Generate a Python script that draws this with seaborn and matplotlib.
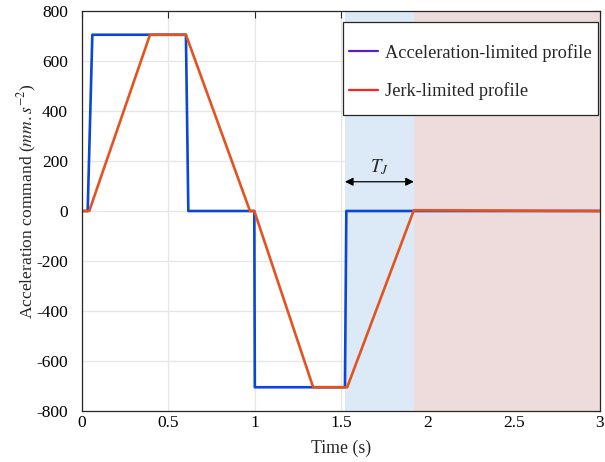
import pandas as pd
import matplotlib.pyplot as plt
from matplotlib.lines import Line2D
from matplotlib.patches import Rectangle
import seaborn as sns

# Acceleration-limited profile (time s, accel mm/s^2)
acc_t = [0.0, 0.033, 0.060, 0.602, 0.616, 0.998, 1.001, 1.523, 1.531, 3.0]
acc_a = [0, 0, 705, 705, 0, 0, -705, -705, 0, 0]

# Jerk-limited profile
jerk_t = [0.0, 0.042, 0.394, 0.602, 0.973, 0.998, 1.339, 1.536, 1.922, 3.0]
jerk_a = [0, 0, 705, 705, 0, 0, -705, -705, 3, 0]

# shaded zones and T_J arrow
tj_start, tj_end = 1.523, 1.922
arrow_y = 117

x_ticks = [0, 0.5, 1, 1.5, 2, 2.5, 3]
y_ticks = [-800, -600, -400, -200, 0, 200, 400, 600, 800]

sns.set_style('white')
plt.rcParams['font.family'] = ['Liberation Serif', 'DejaVu Serif']
plt.rcParams['mathtext.fontset'] = 'stix'
plt.rcParams['axes.unicode_minus'] = False

fig = plt.figure(figsize=(6.05, 4.62), dpi=100)
ax = fig.add_axes([0.1355, 0.1104, 0.8562, 0.8658])

df_acc = pd.DataFrame({'t': acc_t, 'a': acc_a})
df_jerk = pd.DataFrame({'t': jerk_t, 'a': jerk_a})

ax.axvspan(tj_start, tj_end, color='#dce9f7', lw=0, zorder=1)
ax.axvspan(tj_end, 3, color='#eedcdc', lw=0, zorder=1)

sns.lineplot(data=df_acc, x='t', y='a', sort=False, color='#0a47d3', lw=1.9,
             ax=ax, zorder=3)
sns.lineplot(data=df_jerk, x='t', y='a', sort=False, color='#e4531f', lw=1.9,
             ax=ax, zorder=4)

ax.annotate('', xy=(tj_start, arrow_y), xytext=(tj_end, arrow_y),
            arrowprops=dict(arrowstyle='<|-|>', color='black', lw=0.9,
                            mutation_scale=12, shrinkA=0, shrinkB=0), zorder=5)
ax.text((tj_start + tj_end) / 2, arrow_y + 18, '$T_J$', ha='center', va='bottom',
        fontsize=13.5, zorder=5)

ax.set_xlim(0, 3)
ax.set_ylim(-800, 800)
ax.set_xticks(x_ticks)
ax.set_xticklabels([f'{v:g}' for v in x_ticks])
ax.set_yticks(y_ticks)
ax.set_yticklabels([str(v) for v in y_ticks])
ax.grid(True, color='#e6e6e6', lw=0.9, zorder=0)
ax.set_axisbelow(True)
ax.tick_params(axis='both', direction='in', length=5, width=0.8, top=True,
               right=True, labelsize=12.5, colors='#262626', labelcolor='black')
ax.tick_params(axis='y', pad=10)
ax.tick_params(axis='x', pad=3)
for s in ax.spines.values():
    s.set_color('#262626')
    s.set_linewidth(0.9)
    s.set_zorder(6)

ax.set_xlabel('Time (s)', fontsize=12.8, labelpad=6)
ax.set_ylabel('Acceleration command ($mm.s^{-2}$)', fontsize=12.6)
ax.yaxis.set_label_coords(-0.083, 0.525)

# legend box drawn by hand (MATLAB-like padding)
box = Rectangle((0.504, 0.74), 0.492, 0.2325, transform=ax.transAxes,
                facecolor='white', edgecolor='#262626', lw=0.9, zorder=7)
ax.add_patch(box)
handles = [Line2D([], [], color='#5a1fc8', lw=1.6),
           Line2D([], [], color='#ff2020', lw=1.6)]
leg = ax.legend(handles, ['Acceleration-limited profile', 'Jerk-limited profile'],
                loc='upper left', bbox_to_anchor=(0.515, 0.918), fontsize=13.2,
                frameon=False, borderpad=0, labelspacing=1.12,
                handlelength=1.6, handletextpad=0.4, borderaxespad=0)
leg.set_zorder(8)

plt.savefig('out.png', dpi=100)
